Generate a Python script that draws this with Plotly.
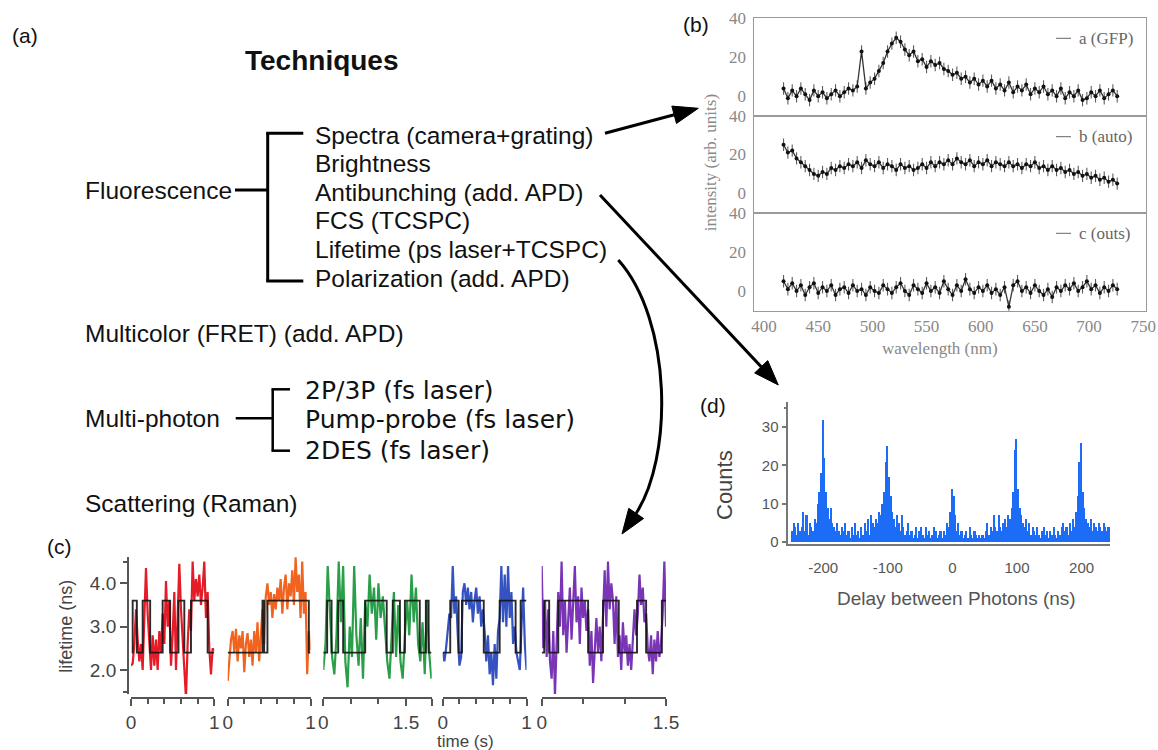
import math
import plotly.graph_objects as go

W, H = 1158, 750

def px(x):
    return x / W

def py(y):
    return 1 - y / H

def dom_x(a, b):
    return [a / W, b / W]

def dom_y(top, bottom):
    return [1 - bottom / H, 1 - top / H]

# ---------------- DATA ----------------
# (b) spectra, wavelength grid (nm)
b_wl = list(range(418, 727, 4))
b_gfp = [4, -1, 3, 0, 4, 1, -2, 3, 0, 2,
         -1, 1, 3, 0, 2, 4, 3, 5, 23, 4,
         7, 9, 13, 17, 23, 27, 30, 28, 24, 21,
         23, 18, 19, 15, 18, 16, 17, 14, 13, 11,
         12, 9, 10, 7, 9, 6, 8, 5, 8, 4,
         6, 3, 7, 2, 5, 3, 6, 1, 4, 2,
         5, 1, 3, 0, 4, -1, 2, 0, 3, -2,
         -1, 2, 0, 3, -1, 1, 3, 0]
b_auto = [25, 21, 22, 18, 16, 14, 12, 10, 9, 11,
          10, 13, 12, 14, 13, 15, 14, 16, 13, 17,
          15, 14, 16, 13, 15, 14, 12, 15, 13, 14,
          12, 13, 15, 13, 16, 14, 16, 15, 17, 15,
          18, 16, 15, 17, 14, 16, 15, 17, 14, 16,
          15, 14, 16, 14, 15, 13, 15, 14, 16, 13,
          14, 12, 14, 12, 13, 11, 12, 10, 11, 9,
          10, 8, 9, 7, 8, 6, 7, 5]
b_outs = [5, 1, 4, 0, 3, -2, 2, 4, -1, 2,
          0, 3, -2, 1, 2, -1, 3, 0, 1, -2,
          2, 0, -1, 3, 1, -1, 2, 4, 0, -2,
          3, 1, -1, 4, 0, 2, -1, 5, 1, -2,
          3, 0, 6, 1, -1, 2, 0, 3, -1, 1,
          -2, 2, -8, 3, 5, 0, 2, -1, 3, 0,
          -2, 1, -3, 2, 0, 3, 1, 4, 0, 2,
          5, 1, 3, -1, 2, 0, 3, 1]
b_labels = ["a (GFP)", "b (auto)", "c (outs)"]
b_xticks = [400, 450, 500, 550, 600, 650, 700, 750]
b_yticks = [0, 20, 40]

# (d) photon-delay histogram, 2.5 ns bins starting at -250 ns
d_bin_start = -250
d_bin_width = 2.5
d_counts = [0, 3, 5, 4, 2, 5, 3, 4, 8, 3, 7, 2, 5, 4, 3, 6, 5, 10, 13, 18,
            32, 22, 13, 9, 6, 9, 5, 4, 3, 5, 3, 2, 4, 3, 5, 2, 3, 1, 4, 2,
            5, 2, 3, 1, 4, 2, 5, 3, 6, 2, 7, 5, 4, 6, 5, 8, 7, 10, 13, 21,
            25, 17, 12, 8, 6, 4, 7, 5, 3, 7, 4, 2, 3, 5, 2, 3, 1, 2, 4, 1,
            3, 4, 2, 1, 4, 2, 3, 1, 2, 4, 3, 1, 2, 3, 1, 3, 2, 5, 4, 8,
            14, 12, 7, 3, 5, 2, 3, 1, 2, 3, 1, 4, 2, 1, 3, 2, 1, 2, 1, 2,
            1, 3, 5, 2, 4, 3, 7, 4, 3, 7, 4, 3, 5, 6, 4, 7, 6, 9, 13, 24,
            27, 14, 9, 7, 5, 4, 6, 3, 5, 2, 4, 3, 2, 4, 2, 1, 3, 4, 2, 3,
            1, 3, 2, 4, 2, 1, 3, 2, 4, 5, 3, 4, 2, 5, 3, 6, 4, 8, 12, 21,
            26, 13, 9, 6, 5, 4, 6, 3, 5, 4, 3, 5, 4, 3, 5, 4, 3, 4, 3, 4]
d_xticks = [-200, -100, 0, 100, 200]
d_xticklabels = ["-200", "-100", "0", "100", "200"]
d_yticks = [0, 10, 20, 30]

# (c) lifetime traces (ns)
c_red_t = [i * 0.02 for i in range(51)]
c_red = [2.10, 2.15, 2.60, 3.40, 2.70, 2.20, 2.60, 2.00, 3.20, 4.35,
         3.30, 2.70, 2.00, 2.80, 2.10, 2.70, 2.00, 2.90, 2.40, 3.30,
         2.60, 4.05, 3.00, 3.60, 2.10, 2.80, 3.80, 2.00, 3.30, 4.45,
         3.40, 2.70, 2.20, 1.35, 2.60, 3.40, 2.90, 4.50, 3.60, 4.10,
         3.70, 4.20, 3.50, 3.90, 4.50, 3.20, 3.80, 2.50, 1.90, 2.50, 2.45]
c_orange_t = [i * 0.02 for i in range(51)]
c_orange = [1.75, 2.30, 2.70, 2.90, 2.40, 2.95, 2.20, 2.80, 2.50, 2.90,
            1.95, 2.60, 2.85, 2.30, 2.70, 2.10, 2.90, 2.40, 3.10, 2.20,
            2.90, 3.40, 2.60, 3.70, 4.00, 3.50, 3.80, 3.20, 3.75, 3.40,
            3.90, 3.60, 4.10, 3.30, 3.90, 4.20, 3.40, 4.00, 3.70, 4.30,
            3.50, 4.60, 3.80, 4.20, 3.20, 4.50, 3.30, 3.80, 1.90, 2.90, 2.45]
c_green_t = [i * 0.04 for i in range(50)]
c_green = [2.00, 2.60, 4.40, 3.20, 2.30, 1.90, 2.80, 4.50, 3.10, 4.40,
           2.20, 1.60, 3.00, 2.30, 4.40, 2.80, 2.10, 3.20, 1.80, 3.60,
           3.00, 4.20, 3.30, 3.90, 2.70, 4.00, 3.20, 3.70, 2.90, 2.20,
           1.80, 2.70, 3.80, 2.30, 3.50, 2.20, 1.80, 2.80, 3.60, 2.80,
           4.20, 3.10, 3.90, 2.60, 2.20, 3.10, 1.90, 3.60, 2.40, 1.80]
c_blue_t = [i * 0.02 for i in range(51)]
c_blue = [2.40, 2.20, 2.50, 3.00, 3.30, 3.20, 4.40, 3.30, 3.70, 2.80,
          2.10, 2.30, 3.80, 4.00, 3.50, 3.90, 3.40, 3.80, 3.10, 3.60,
          3.90, 3.30, 3.70, 3.00, 3.40, 2.90, 2.20, 2.80, 1.90, 2.40,
          1.65, 2.60, 1.80, 2.90, 3.20, 4.40, 3.10, 4.20, 3.00, 4.40,
          3.20, 3.80, 2.60, 3.00, 2.40, 2.20, 2.00, 3.00, 3.90, 2.60, 2.00]
c_purple_t = [i * 0.02 for i in range(76)]
c_purple = [4.40, 2.50, 3.60, 2.30, 3.40, 2.20, 1.80, 2.90, 1.40, 2.60,
            3.80, 3.00, 4.50, 2.80, 3.60, 2.40, 3.20, 3.90, 2.70, 3.50,
            4.40, 3.10, 3.70, 2.60, 3.90, 3.20, 3.60, 2.90, 3.40, 2.10,
            2.90, 1.70, 2.50, 3.20, 2.40, 3.00, 2.20, 3.40, 4.30, 3.00,
            4.50, 3.40, 4.00, 3.60, 2.60, 3.70, 2.30, 2.80, 2.00, 3.10,
            2.40, 2.80, 2.10, 2.60, 2.00, 2.70, 3.40, 2.80, 3.30, 4.20,
            3.50, 3.90, 3.10, 3.30, 2.50, 2.20, 2.80, 1.90, 2.70, 2.20,
            2.90, 2.30, 2.60, 3.30, 4.50, 3.00]

# two-state fits: change times (s) and levels (ns)
step_red_t = [0.01, 0.02, 0.07, 0.14, 0.23, 0.38, 0.47, 0.57, 0.64, 0.72, 0.92, 1.0]
step_red = [2.4, 3.6, 2.4, 3.6, 2.4, 3.6, 2.4, 3.6, 2.4, 3.6, 2.4, 2.4]
step_orange_t = [0.0, 0.42, 0.44, 0.48, 0.98, 1.0]
step_orange = [2.4, 3.6, 2.4, 3.6, 2.4, 2.4]
step_green_t = [0.0, 0.07, 0.15, 0.27, 0.36, 0.76, 1.15, 1.26, 1.39, 1.48, 1.75, 1.86, 1.91, 1.96]
step_green = [2.4, 3.6, 2.4, 3.6, 2.4, 3.6, 2.4, 3.6, 2.4, 3.6, 2.4, 3.6, 2.4, 2.4]
step_blue_t = [0.0, 0.09, 0.19, 0.23, 0.49, 0.68, 0.87, 0.93, 1.0]
step_blue = [2.4, 3.6, 2.4, 3.6, 2.4, 3.6, 2.4, 3.6, 3.6]
step_purple_t = [0.0, 0.03, 0.09, 0.20, 0.56, 0.74, 0.93, 1.15, 1.26, 1.45, 1.5]
step_purple = [2.4, 3.6, 2.4, 3.6, 2.4, 3.6, 2.4, 3.6, 2.4, 3.6, 3.6]

c_colors = ["rgb(228,28,40)", "rgb(240,100,32)", "rgb(42,158,72)", "rgb(52,82,192)", "rgb(122,52,182)"]

# (a) text items
fluo_items = ["Spectra (camera+grating)", "Brightness", "Antibunching (add. APD)",
              "FCS (TCSPC)", "Lifetime (ps laser+TCSPC)", "Polarization (add. APD)"]
multi_items = ["2P/3P (fs laser)", "Pump-probe (fs laser)", "2DES (fs laser)"]

# ---------------- FIGURE ----------------
fig = go.Figure()

# panel (b)
b_sets = [(b_gfp, "x", "y"), (b_auto, "x2", "y2"), (b_outs, "x3", "y3")]
for vals, xa, ya in b_sets:
    fig.add_trace(go.Scatter(
        x=b_wl, y=vals, xaxis=xa, yaxis=ya, mode="lines+markers",
        line=dict(color="rgba(30,30,30,0.9)", width=1.3),
        marker=dict(size=4, color="#111"),
        error_y=dict(type="constant", value=3.2, thickness=1.1, width=0, color="rgba(40,40,40,0.75)"),
        hoverinfo="skip"))

# panel (d)
d_centers = [d_bin_start + d_bin_width * i for i in range(len(d_counts))]
fig.add_trace(go.Bar(x=d_centers, y=d_counts, width=d_bin_width, xaxis="x4", yaxis="y4",
                     marker=dict(color="rgb(28,108,245)", line=dict(width=0)), hoverinfo="skip"))

# panel (c)
c_sets = [(c_red_t, c_red, step_red_t, step_red, "x5"),
          (c_orange_t, c_orange, step_orange_t, step_orange, "x6"),
          (c_green_t, c_green, step_green_t, step_green, "x7"),
          (c_blue_t, c_blue, step_blue_t, step_blue, "x8"),
          (c_purple_t, c_purple, step_purple_t, step_purple, "x9")]
for i, (tt, vv, st, sv, xa) in enumerate(c_sets):
    fig.add_trace(go.Scatter(x=tt, y=vv, xaxis=xa, yaxis="y5", mode="lines",
                             line=dict(color=c_colors[i], width=2.2), hoverinfo="skip"))
    fig.add_trace(go.Scatter(x=st, y=sv, xaxis=xa, yaxis="y5", mode="lines",
                             line=dict(color="rgba(20,20,20,0.9)", width=1.9, shape="hv"),
                             hoverinfo="skip"))

serif = "Liberation Serif"
sans = "Liberation Sans"

bx_common = dict(domain=dom_x(754.3, 1145.7), range=[391, 752.3], showline=True, mirror=True,
                 linecolor="#9a9a9a", linewidth=1, showgrid=False, zeroline=False, ticks="",
                 tickvals=b_xticks, tickfont=dict(family=serif, size=17, color="#888"),
                 automargin=False, ticklabelstandoff=0)
by_common = dict(range=[-10, 40], showline=True, mirror=True, linecolor="#9a9a9a", linewidth=1,
                 showgrid=False, zeroline=False, ticks="", tickvals=b_yticks,
                 tickfont=dict(family=serif, size=17, color="#888"), automargin=False,
                 ticklabelstandoff=4)

c_x_common = dict(anchor="free", position=py(698.3), showline=True, linecolor="#555", linewidth=1.5,
                  ticks="outside", ticklen=7, tickwidth=1.5, tickcolor="#555", showgrid=False,
                  zeroline=False, tickfont=dict(family=sans, size=19, color="#444"),
                  automargin=False)

def cx(dom, rng, major, labels, minor):
    d = dict(c_x_common)
    d.update(domain=dom, range=rng, tickvals=major, ticktext=labels,
             minor=dict(tickvals=minor, ticklen=5, ticks="outside", tickcolor="#555", tickwidth=1.5))
    return d

fig.update_layout(
    width=W, height=H, margin=dict(l=0, r=0, t=0, b=0),
    paper_bgcolor="white", plot_bgcolor="rgba(0,0,0,0)",
    showlegend=False, hovermode=False, bargap=0,
    xaxis=dict(bx_common, anchor="y", showticklabels=False),
    xaxis2=dict(bx_common, anchor="y2", showticklabels=False),
    xaxis3=dict(bx_common, anchor="y3", showticklabels=True),
    yaxis=dict(by_common, domain=dom_y(18.3, 115.7), anchor="x"),
    yaxis2=dict(by_common, domain=dom_y(115.7, 212.7), anchor="x2"),
    yaxis3=dict(by_common, domain=dom_y(212.7, 310.7), anchor="x3"),
    xaxis4=dict(domain=dom_x(788.3, 1110), range=[-254, 244], anchor="y4", showline=True,
                linecolor="#777", linewidth=1.5, ticks="", tickvals=d_xticks, ticktext=d_xticklabels,
                tickfont=dict(family=sans, size=15, color="#555"), showgrid=False, zeroline=False,
                automargin=False, ticklabelstandoff=10),
    yaxis4=dict(domain=dom_y(401.7, 543.5), range=[-0.4, 36.6], anchor="x4", showline=True,
                linecolor="#777", linewidth=1.5, ticks="outside", ticklen=5, tickwidth=1.5,
                tickcolor="#777", tickvals=d_yticks,
                minor=dict(tickvals=[35], ticklen=3, ticks="outside", tickcolor="#777"),
                tickfont=dict(family=sans, size=15, color="#555"), showgrid=False, zeroline=False,
                automargin=False),
    yaxis5=dict(domain=dom_y(557, 694), range=[1.446, 4.607], anchor="free", position=px(127.8),
                showline=True, linecolor="#555", linewidth=1.5, ticks="outside", ticklen=7,
                tickwidth=1.5, tickcolor="#555", tickvals=[2, 3, 4], ticktext=["2.0", "3.0", "4.0"],
                minor=dict(tickvals=[1.5, 4.5], ticklen=4, ticks="outside", tickcolor="#555", tickwidth=1.5),
                tickfont=dict(family=sans, size=19, color="#444"), showgrid=False, zeroline=False,
                automargin=False),
    xaxis5=cx(dom_x(131, 214.3), [0, 1], [0, 1], ["0", "1"], [0.2, 0.4, 0.6, 0.8]),
    xaxis6=cx(dom_x(227.7, 310.5), [0, 1], [0, 1], ["0", "1"], [0.2, 0.4, 0.6, 0.8]),
    xaxis7=cx(dom_x(323.3, 431.7), [0, 1.966], [0, 1.5, 1.966], ["0", "1.5", ""], [0.5, 1.0]),
    xaxis8=cx(dom_x(442.7, 526.5), [0, 1], [0, 1], ["0", "1"], [0.2, 0.4, 0.6, 0.8]),
    xaxis9=cx(dom_x(541.7, 666), [0, 1.5], [0, 1.5], ["0", "1.5"], [0.5, 1.0]),
)

# ---------------- TEXT ----------------
ann = []

def text(x, y, s, size, family=sans, color="#111", xanchor="left", angle=0, bold=False):
    if bold:
        s = "<b>" + s + "</b>"
    ann.append(dict(x=px(x), y=py(y), xref="paper", yref="paper", text=s, showarrow=False,
                    xanchor=xanchor, yanchor="middle", textangle=angle,
                    font=dict(family=family, size=size, color=color)))

text(10, 35.5, "(a)", 21)
text(243, 60.7, "Techniques", 28, bold=True)
text(83.3, 190, "Fluorescence", 24.5)
for s, yy in zip(fluo_items, [135.5, 163.5, 192, 220, 249, 278]):
    text(313.3, yy, s, 24.5)
text(83.3, 333.3, "Multicolor (FRET) (add. APD)", 24.5)
text(83.3, 418.3, "Multi-photon", 24.5)
text(83.3, 503.3, "Scattering (Raman)", 24.5)
for s, yy in zip(multi_items, [390, 419.5, 450]):
    text(303.3, yy, s, 25, family="DejaVu Sans")

text(681, 25, "(b)", 21)
text(59.3, 546.7, "(c)", 21, xanchor="center")
text(713, 405, "(d)", 21, xanchor="center")

# (b) labels
for s, yy in zip(b_labels, [38.3, 136.7, 233.3]):
    text(1077, yy, s, 17, family=serif, color="#666")
text(710, 163.3, "intensity (arb. units)", 17, family=serif, color="#888", xanchor="center", angle=-90)
text(940, 348, "wavelength (nm)", 17, family=serif, color="#888", xanchor="center")

# (d) labels
text(725, 485, "Counts", 22, color="#444", xanchor="center", angle=-90)
text(956.7, 598.3, "Delay between Photons (ns)", 19, color="#555", xanchor="center")

# (c) labels
text(66, 626.7, "lifetime (ns)", 18, color="#444", xanchor="center", angle=-90)
text(465, 741.5, "time (s)", 17, color="#444", xanchor="center")

fig.update_layout(annotations=ann)

# ---------------- SHAPES (brackets, arrows) ----------------
shapes = []

def seg(x0, y0, x1, y1, w=3, color="black"):
    shapes.append(dict(type="line", xref="paper", yref="paper", x0=px(x0), y0=py(y0),
                       x1=px(x1), y1=py(y1), line=dict(color=color, width=w)))

# fluorescence bracket
seg(267.7, 133.3, 267.7, 281)
seg(266.2, 133.3, 303.3, 133.3)
seg(266.2, 281, 303.3, 281)
seg(235, 190, 267.7, 190)
# multi-photon bracket
seg(272.7, 389.3, 272.7, 450.7, w=2.5)
seg(271.5, 389.3, 290, 389.3, w=2.5)
seg(271.5, 450.7, 290, 450.7, w=2.5)
seg(235.7, 418.3, 272.7, 418.3, w=2.5)

# (b) legend dashes
for yy in [38.3, 136.7, 233.3]:
    seg(1056, yy, 1071, yy, w=1, color="#666")

def head(tx, ty, ux, uy, L=25, Wd=18):
    n = math.hypot(ux, uy)
    ux, uy = ux / n, uy / n
    bx, by = tx - ux * L, ty - uy * L
    qx, qy = -uy, ux
    p1 = (bx + qx * Wd / 2, by + qy * Wd / 2)
    p2 = (bx - qx * Wd / 2, by - qy * Wd / 2)
    path = "M {:.5f} {:.5f} L {:.5f} {:.5f} L {:.5f} {:.5f} Z".format(
        px(tx), py(ty), px(p1[0]), py(p1[1]), px(p2[0]), py(p2[1]))
    shapes.append(dict(type="path", xref="paper", yref="paper", path=path,
                       fillcolor="black", line=dict(color="black", width=1)))
    return bx + ux * 3, by + uy * 3

def straight_arrow(x0, y0, x1, y1):
    bx, by = head(x1, y1, x1 - x0, y1 - y0)
    seg(x0, y0, bx, by, w=3)

straight_arrow(605, 133.3, 698.3, 108.3)
straight_arrow(600, 195, 778.3, 385)

# curved arrow to (c)
tip = (622, 534)
u = (-0.566, 0.824)
bx, by = head(tip[0], tip[1], u[0], u[1])
P0 = (618.3, 260)
P1 = (672, 320)
P2 = (bx - u[0] * 70, by - u[1] * 70)
path = "M {:.5f} {:.5f} C {:.5f} {:.5f} {:.5f} {:.5f} {:.5f} {:.5f}".format(
    px(P0[0]), py(P0[1]), px(P1[0]), py(P1[1]), px(P2[0]), py(P2[1]), px(bx), py(by))
shapes.append(dict(type="path", xref="paper", yref="paper", path=path,
                   line=dict(color="black", width=3)))

fig.update_layout(shapes=shapes)

fig.write_html("out.html")
